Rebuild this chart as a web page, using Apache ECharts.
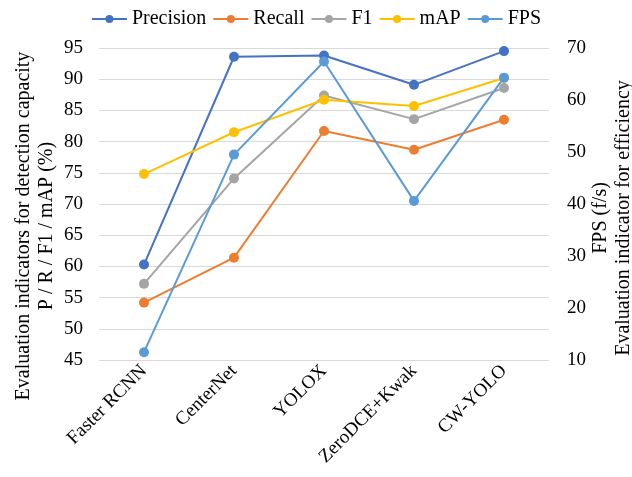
<!DOCTYPE html>
<html>
<head>
<meta charset="utf-8">
<script src="https://cdn.jsdelivr.net/npm/echarts@6/dist/echarts.min.js"></script>
<style>
  html, body { margin: 0; padding: 0; background: #fff; }
  #chart { width: 632px; height: 477px; }
</style>
</head>
<body>
<div id="chart"></div>
<script>
const categories = ['Faster RCNN', 'CenterNet', 'YOLOX', 'ZeroDCE+Kwak', 'CW-YOLO'];
const precision = [60.3, 93.6, 93.8, 89.1, 94.5];
const recall = [54.2, 61.4, 81.7, 78.7, 83.5];
const f1 = [57.2, 74.1, 87.4, 83.6, 88.6];
const mAP = [74.8, 81.5, 86.7, 85.7, 90.2];
const fps = [11.5, 49.5, 67.4, 40.6, 64.3];
const leftTitle = 'Evaluation indicators for detection capacity\nP / R / F1 / mAP (%)';
const rightTitle = 'FPS (f/s)\nEvaluation indicator for efficiency';

const font = '"Liberation Serif", "Times New Roman", serif';
const chart = echarts.init(document.getElementById('chart'));

const makeSeries = (name, data, color, axis) => ({
  name,
  type: 'line',
  data,
  yAxisIndex: axis,
  symbol: 'circle',
  symbolSize: 10,
  itemStyle: { color },
  lineStyle: { color, width: 2 },
  emphasis: { disabled: true }
});

// axis titles placed by hand, the built-in name offsets were hard to line up
const axisTitle = (text, x, y, size) => ({
  type: 'text',
  x,
  y,
  rotation: Math.PI / 2,
  silent: true,
  style: {
    text,
    fontFamily: font,
    fontSize: size,
    lineHeight: 23,
    fill: '#000',
    align: 'center',
    verticalAlign: 'middle'
  }
});

chart.setOption({
  animation: false,
  textStyle: { fontFamily: font },
  legend: {
    top: 4,
    left: 'center',
    itemWidth: 35,
    itemHeight: 10,
    itemGap: 6,
    textStyle: { fontFamily: font, fontSize: 20, color: '#000' }
  },
  grid: { left: 99, right: 83, top: 48, bottom: 117, outerBoundsMode: 'none' },
  xAxis: {
    type: 'category',
    data: categories,
    axisLine: { show: false },
    axisTick: { show: false },
    axisLabel: {
      rotate: 45,
      margin: 8,
      fontFamily: font,
      fontSize: 19,
      color: '#000'
    }
  },
  yAxis: [
    {
      type: 'value',
      min: 45,
      max: 95,
      interval: 5,
      axisLine: { show: false },
      axisTick: { show: false },
      axisLabel: { fontFamily: font, fontSize: 19, color: '#000', margin: 16 },
      splitLine: { lineStyle: { color: '#d9d9d9', width: 1 } }
    },
    {
      type: 'value',
      position: 'right',
      min: 10,
      max: 70,
      interval: 10,
      axisLine: { show: false },
      axisTick: { show: false },
      axisLabel: { fontFamily: font, fontSize: 19, color: '#000', margin: 18 },
      splitLine: { show: false }
    }
  ],
  graphic: [
    axisTitle(leftTitle, 35, 226, 20),
    axisTitle(rightTitle, 612, 218, 20)
  ],
  series: [
    makeSeries('Precision', precision, '#4472c4', 0),
    makeSeries('Recall', recall, '#ed7d31', 0),
    makeSeries('F1', f1, '#a5a5a5', 0),
    makeSeries('mAP', mAP, '#ffc000', 0),
    makeSeries('FPS', fps, '#5b9bd5', 1)
  ]
});
</script>
</body>
</html>
